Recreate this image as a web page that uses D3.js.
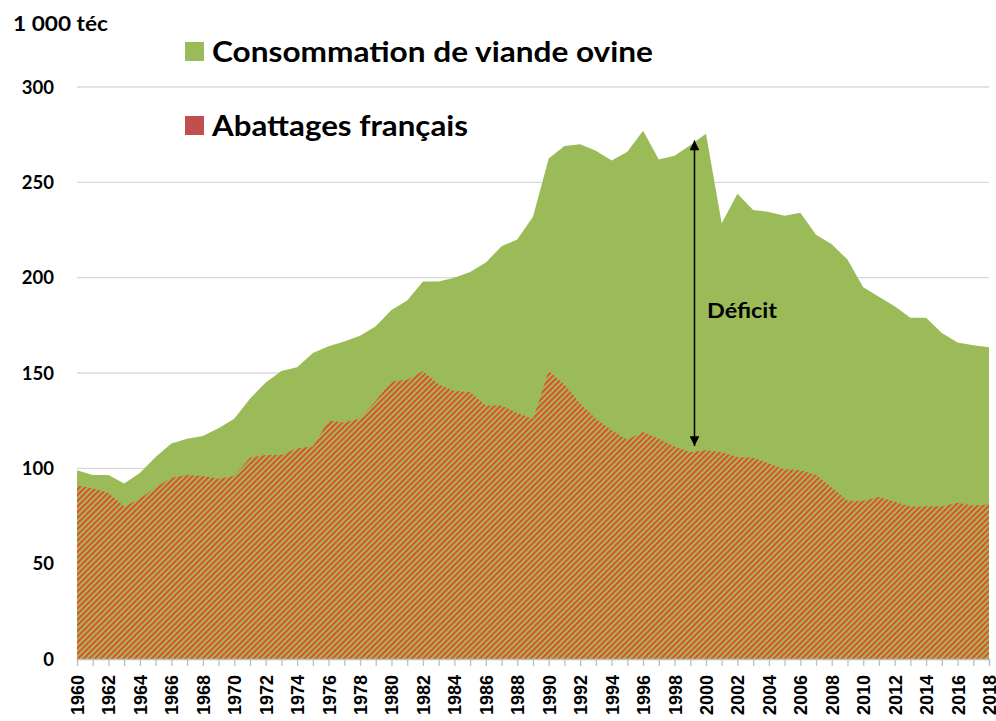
<!DOCTYPE html>
<html lang="fr">
<head>
<meta charset="utf-8">
<script src="https://cdn.jsdelivr.net/npm/d3@7"></script>
<style>
  html, body { margin: 0; padding: 0; background: #ffffff; }
  svg { display: block; }
</style>
</head>
<body>
<svg id="chart" width="996" height="721"></svg>
<script>
// Années (catégories de l'axe horizontal)
const years = [
  1960, 1961, 1962, 1963, 1964, 1965, 1966, 1967, 1968, 1969,
  1970, 1971, 1972, 1973, 1974, 1975, 1976, 1977, 1978, 1979,
  1980, 1981, 1982, 1983, 1984, 1985, 1986, 1987, 1988, 1989,
  1990, 1991, 1992, 1993, 1994, 1995, 1996, 1997, 1998, 1999,
  2000, 2001, 2002, 2003, 2004, 2005, 2006, 2007, 2008, 2009,
  2010, 2011, 2012, 2013, 2014, 2015, 2016, 2017, 2018
];

// Consommation de viande ovine (1 000 téc)
const consommation = [
  99, 96.5, 96.5, 92, 97.5, 106, 113, 115.5, 117, 121,
  126, 136.5, 145, 151, 153, 160.5, 164, 166.5, 169.5, 174.5,
  183, 188, 198, 198, 200, 203, 208, 216.5, 220, 232,
  262.5, 269, 270, 266.5, 261.5, 266, 277, 262, 264, 269.5,
  275.5, 228.5, 244, 235.5, 234.5, 232.5, 234, 222.5, 217.5, 209.5,
  195, 190, 185, 179, 179, 171, 166, 164.5, 163.5
];

// Abattages français (1 000 téc)
const abattages = [
  91, 89.5, 87, 80, 84, 90, 95, 96.5, 96, 94.5,
  96, 105.5, 107, 107, 110.5, 111.5, 125, 124, 126, 135.5,
  145.5, 146.5, 151, 144, 140.5, 140, 133, 133, 129, 126,
  151, 144, 134, 126, 120, 115, 119, 115.5, 111.5, 108.5,
  109.5, 108.5, 106, 105.5, 102.5, 99.5, 99, 96.5, 90, 83,
  83, 85, 82.5, 80, 80, 80, 82, 80.5, 81
];

// Graduations et libellés
const yTicks = [0, 50, 100, 150, 200, 250, 300];
const xLabelYears = [
  1960, 1962, 1964, 1966, 1968, 1970, 1972, 1974, 1976, 1978,
  1980, 1982, 1984, 1986, 1988, 1990, 1992, 1994, 1996, 1998,
  2000, 2002, 2004, 2006, 2008, 2010, 2012, 2014, 2016, 2018
];
const seriesNames = ["Consommation de viande ovine", "Abattages français"];
const unitLabel = "1 000 téc";
const deficitLabel = "Déficit";
// Flèche du déficit : position (année) et bornes (valeurs)
const deficitArrow = { year: 1999.27, from: 111.7, to: 272 };

const GREEN = "#9bbb59";
const RED = "#c0504d";
const STRIPE = "#f23a22";

const svg = d3.select("#chart");
const plotLeft = 77, plotRight = 989, plotTop = 87, plotBottom = 659;

const x = d3.scaleLinear().domain([1960, 2018]).range([plotLeft, plotRight]);
const y = d3.scaleLinear().domain([0, 300]).range([plotBottom, plotTop]);

// Motif hachuré pour les abattages
const defs = svg.append("defs");
const pat = defs.append("pattern")
  .attr("id", "hatch")
  .attr("patternUnits", "userSpaceOnUse")
  .attr("width", 4).attr("height", 4)
  .attr("patternTransform", "rotate(45)");
pat.append("rect").attr("width", 4).attr("height", 4).attr("fill", GREEN);
pat.append("rect").attr("x", 0).attr("y", 0).attr("width", 1.7).attr("height", 4).attr("fill", STRIPE);

// Quadrillage horizontal
svg.append("g")
  .selectAll("line")
  .data(yTicks.filter(d => d > 0))
  .join("line")
  .attr("x1", plotLeft).attr("x2", plotRight)
  .attr("y1", d => y(d)).attr("y2", d => y(d))
  .attr("stroke", "#d9d9d9").attr("stroke-width", 1.3);

const data = years.map((yr, i) => ({ year: yr, conso: consommation[i], abat: abattages[i] }));

// Aire de consommation
svg.append("path")
  .datum(data)
  .attr("fill", GREEN)
  .attr("d", d3.area().x(d => x(d.year)).y0(y(0)).y1(d => y(d.conso)));

// Aire des abattages (hachurée)
svg.append("path")
  .datum(data)
  .attr("fill", "url(#hatch)")
  .attr("d", d3.area().x(d => x(d.year)).y0(y(0)).y1(d => y(d.abat)));

// Axe horizontal
const xAxis = d3.axisBottom(x)
  .tickValues(years)
  .tickSize(7)
  .tickFormat(d => xLabelYears.includes(d) ? String(d) : "");
const gx = svg.append("g")
  .attr("transform", `translate(0,${plotBottom})`)
  .call(xAxis);
gx.select(".domain").attr("stroke", "#bfbfbf").attr("stroke-width", 1.3);
gx.selectAll(".tick line").attr("stroke", "#bfbfbf").attr("stroke-width", 1.3);
gx.selectAll(".tick text")
  .attr("font-family", "'Liberation Sans', Arial, sans-serif")
  .attr("font-weight", "bold")
  .attr("font-size", 18)
  .attr("fill", "#000")
  .attr("text-anchor", "end")
  .attr("transform", "rotate(-90)")
  .attr("x", -16)
  .attr("y", 0)
  .attr("dy", "0.36em");

// Axe vertical (libellés seuls)
svg.append("g")
  .selectAll("text")
  .data(yTicks)
  .join("text")
  .attr("x", 54)
  .attr("y", d => y(d))
  .attr("dy", "0.36em")
  .attr("text-anchor", "end")
  .attr("font-family", "Lato, 'Open Sans', sans-serif")
  .attr("font-weight", "bold")
  .attr("font-size", 18.5)
  .attr("fill", "#000")
  .text(d => d);

// Unité
svg.append("text")
  .attr("x", 13).attr("y", 31)
  .attr("font-family", "Lato, 'Open Sans', sans-serif")
  .attr("font-weight", "bold")
  .attr("font-size", 21)
  .attr("textLength", 95)
  .attr("lengthAdjust", "spacingAndGlyphs")
  .attr("fill", "#000")
  .text(unitLabel);

// Légende
const legend = svg.append("g");
const legendItems = [
  { name: seriesNames[0], color: GREEN, y: 42, width: 441 },
  { name: seriesNames[1], color: RED, y: 116, width: 256 }
];
legendItems.forEach(it => {
  legend.append("rect")
    .attr("x", 185).attr("y", it.y)
    .attr("width", 19).attr("height", 19)
    .attr("fill", it.color);
  legend.append("text")
    .attr("x", 212).attr("y", it.y + 20)
    .attr("font-family", "Lato, 'Open Sans', sans-serif")
    .attr("font-weight", "bold")
    .attr("font-size", 29)
    .attr("textLength", it.width)
    .attr("lengthAdjust", "spacingAndGlyphs")
    .attr("fill", "#000")
    .text(it.name);
});

// Flèche double du déficit
defs.append("marker")
  .attr("id", "arrowhead")
  .attr("viewBox", "0 0 10 10")
  .attr("refX", 10).attr("refY", 5)
  .attr("markerWidth", 7).attr("markerHeight", 6.5)
  .attr("markerUnits", "strokeWidth")
  .attr("orient", "auto-start-reverse")
  .append("path")
  .attr("d", "M0,0 L10,5 L0,10 Z")
  .attr("fill", "#000");

svg.append("line")
  .attr("x1", x(deficitArrow.year)).attr("x2", x(deficitArrow.year))
  .attr("y1", y(deficitArrow.from)).attr("y2", y(deficitArrow.to))
  .attr("stroke", "#000")
  .attr("stroke-width", 1.5)
  .attr("marker-start", "url(#arrowhead)")
  .attr("marker-end", "url(#arrowhead)");

svg.append("text")
  .attr("x", 707).attr("y", 318)
  .attr("font-family", "Lato, 'Open Sans', sans-serif")
  .attr("font-weight", "bold")
  .attr("font-size", 20.5)
  .attr("textLength", 70)
  .attr("lengthAdjust", "spacingAndGlyphs")
  .attr("fill", "#000")
  .text(deficitLabel);
</script>
</body>
</html>
